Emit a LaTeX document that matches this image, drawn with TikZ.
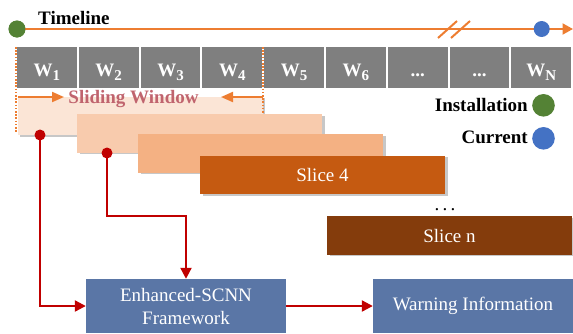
\documentclass[tikz,border=0pt]{standalone}
\usepackage{fontspec}
\setmainfont{Liberation Serif}
\usetikzlibrary{arrows.meta,shadows}
\definecolor{tlorange}{HTML}{ED7D31}
\definecolor{tlgreen}{HTML}{548235}
\definecolor{tlblue}{HTML}{4472C4}
\definecolor{wgray}{HTML}{7F7F7F}
\definecolor{sA}{HTML}{FBE5D6}
\definecolor{sB}{HTML}{F8CBAD}
\definecolor{sC}{HTML}{F4B183}
\definecolor{sD}{HTML}{C55A11}
\definecolor{sN}{HTML}{843C0C}
\definecolor{fwblue}{HTML}{5A76A6}
\definecolor{darkred}{HTML}{C00000}
\definecolor{swtext}{HTML}{C0646E}
\begin{document}
\begin{tikzpicture}[x=1pt,y=-1pt,
  fnt/.style={font=\fontsize{19pt}{23pt}\selectfont},
  wbox/.style={fill=wgray,draw=none,minimum width=59.8pt,minimum height=41pt,inner sep=0pt},
  wlabel/.style={fnt,text=white,font=\fontsize{19pt}{23pt}\selectfont\bfseries,inner sep=0pt,anchor=base},
  slicebox/.style={draw=none,minimum width=245pt,minimum height=38.5pt,inner sep=0pt,fnt,text=white,
     drop shadow={shadow xshift=2.5pt,shadow yshift=-1.5pt,fill=black,opacity=0.22}},
  fwbox/.style={fill=fwblue,draw=none,minimum width=200pt,minimum height=54pt,inner sep=0pt,fnt,text=white,align=center},
  redarrow/.style={draw=darkred,line width=2.2pt,-{Triangle[length=11pt,width=11pt]}},
  orarrow/.style={draw=tlorange,line width=2pt,-{Triangle[length=12pt,width=10pt]}},
  dotline/.style={draw=tlorange,line width=1.6pt,dash pattern=on 1.6pt off 1.6pt},
  legtext/.style={fnt,font=\fontsize{19pt}{23pt}\selectfont\bfseries,inner sep=0pt,anchor=base east}
]
\useasboundingbox (0,0) rectangle (573,333);

% Timeline
\coordinate (tlend) at (573,29);
\node[circle,fill=tlgreen,minimum size=17pt,inner sep=0pt] (g0) at (17,29) {};
\draw[tlorange,line width=2pt,-{Triangle[length=10.5pt,width=11pt]}] (g0.center) -- (tlend);
\fill[tlgreen] (g0.center) circle (8.4pt);
\node[circle,fill=tlblue,minimum size=16pt,inner sep=0pt] (b0) at (541.7,29) {};
\draw[tlorange,line width=2pt] (438,38) -- (457,21);
\draw[tlorange,line width=2pt] (451,38) -- (470,21);
\node[fnt,font=\fontsize{19pt}{23pt}\selectfont\bfseries,inner sep=0pt,anchor=base west] (tl) at (38,24) {Timeline};

% Windows
\foreach \i/\lbl in {0/{W\raisebox{-4pt}{\fontsize{15pt}{15pt}\selectfont 1}},
                     1/{W\raisebox{-4pt}{\fontsize{15pt}{15pt}\selectfont 2}},
                     2/{W\raisebox{-4pt}{\fontsize{15pt}{15pt}\selectfont 3}},
                     3/{W\raisebox{-4pt}{\fontsize{15pt}{15pt}\selectfont 4}},
                     4/{W\raisebox{-4pt}{\fontsize{15pt}{15pt}\selectfont 5}},
                     5/{W\raisebox{-4pt}{\fontsize{15pt}{15pt}\selectfont 6}},
                     6/{...},
                     7/{...},
                     8/{W\raisebox{-4pt}{\fontsize{15pt}{15pt}\selectfont N}}}{
  \node[wbox] (w\i) at ({46.9+61.8*\i},67.5) {};
  \node[wlabel] (lw\i) at ({46.9+61.8*\i},76) {\lbl};
}

% Slice 1
\node[slicebox,fill=sA] (s1) at (140,116) {};
% dotted bounds
\draw[dotline] (16,47) -- (16,133);
\draw[dotline] (263,47) -- (263,135);
% sliding window arrows
\coordinate (swl0) at (18,97);
\coordinate (swl1) at (64,97);
\coordinate (swr0) at (263,97);
\coordinate (swr1) at (221,97);
\draw[orarrow] (swl0) -- (swl1);
\draw[orarrow] (swr0) -- (swr1);
\node[fnt,font=\fontsize{19pt}{23pt}\selectfont\bfseries,text=swtext,inner sep=0pt,anchor=base] (sw) at (133.5,103) {Sliding Window};

% other slices
\node[slicebox,fill=sB] (s2) at (199.5,133.5) {};
\node[slicebox,fill=sC] (s3) at (260.5,153.5) {};
\node[slicebox,fill=sD] (s4) at (322.5,175) {Slice 4};
\node[fnt,inner sep=0pt,anchor=base] (dots) at (445,210) {.\,.\,.};
\node[slicebox,fill=sN] (sn) at (449.5,235.5) {Slice n};

% framework boxes
\node[fwbox] (enh) at (186,306) {Enhanced-SCNN\\Framework};
\node[fwbox] (warn) at (473,306) {Warning Information};

% legend
\node[legtext] (inst) at (528,111) {Installation};
\node[circle,fill=tlgreen,minimum size=22.6pt,inner sep=0pt] (gl) at (543.5,105.3) {};
\node[legtext] (curr) at (528,143.5) {Current};
\node[circle,fill=tlblue,minimum size=22.6pt,inner sep=0pt] (bl) at (543.5,138.3) {};

% red connectors
\coordinate (d1) at (40,135);
\coordinate (d2) at (107,153);
\coordinate (b2) at (107,216);
\draw[redarrow] (d1) |- (enh.west);
\draw[redarrow] (d2) -- (b2) -| (enh.north);
\fill[darkred] (d1) circle (5.5pt);
\fill[darkred] (d2) circle (5.5pt);
\draw[redarrow] (enh.east) -- (warn.west);
\end{tikzpicture}
\end{document}
